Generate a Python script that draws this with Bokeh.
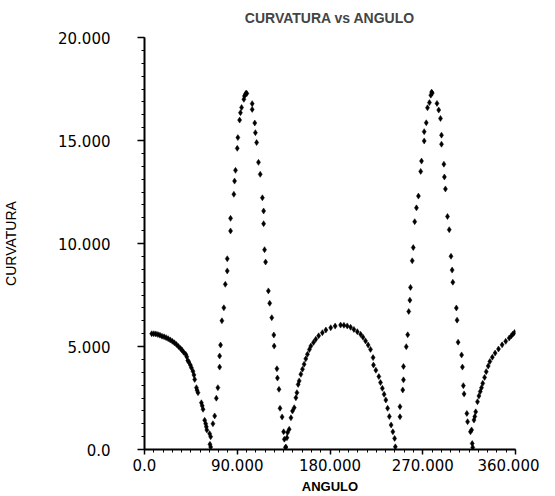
import numpy as np
from bokeh.plotting import figure
from bokeh.models import Range1d, FixedTicker, ColumnDataSource
from bokeh.embed import file_html
from bokeh.resources import INLINE

# ---- data ----
angulo = [
    # lobe 1
    7, 9, 11, 13, 15, 17, 19, 21, 23, 25, 27, 29, 31, 33, 35, 36.5, 38, 40, 41, 42,
    43, 44.5, 45.5, 47, 48, 48.7, 50.4, 51, 51.9, 55.2, 56, 56.8, 58.4, 59.4, 60.0,
    60.5, 63.2, 64.2, 63.5, 64.2,
    # spike 1 rising
    66.4, 68.1, 69.7, 71.2, 72.9, 72.9, 73.8, 75.1, 77.0, 78.4, 80.3, 80.3, 83.5,
    83.5, 86.7, 87.4, 88.3, 90.0, 90.6, 92.3, 93.1, 94.2, 96.4, 97.0, 98.0, 98.6, 99.3,
    # spike 1 falling
    104.5, 104.5, 107.0, 107.6, 108.8, 110.6, 112.3, 114.4, 115.6, 115.6, 116.5,
    117.5, 120.2, 121.5, 123.5, 125.5, 125.8, 128.5, 129.0, 130.5, 131.5, 133.5,
    135.0, 135.7, 136.8,
    # lobe 2
    137.2, 138.2, 138.8, 140.4, 142.1, 143.6, 145.3, 146.9, 147.9, 149.1, 150.1,
    151.7, 153.3, 154.9, 156.5, 158.1, 160.0, 161.4, 164.0, 166.2, 169.0, 172.6,
    176.0, 180.7, 185.0, 190.3, 193.5, 196.7, 200.0, 203.2, 206.5, 209.7, 212.0,
    214.5, 217.0, 219.3, 221.8, 222.2, 224.5, 227.4, 229.0, 230.8, 232.5, 234.2,
    235.9, 237.6, 239.3, 241.0, 242.7, 243.4,
    # spike 2 rising
    247.9, 247.9, 250.6, 251.3, 251.3, 254.0, 255.4, 256.4, 257.5, 258.1, 259.8,
    260.8, 262.2, 263.9, 265.8, 268.0, 268.8, 271.4, 271.4, 273.4, 274.6, 276.5,
    277.8, 278.6, 279.2,
    # spike 2 falling
    283.8, 285.5, 287.2, 288.2, 288.2, 290.5, 291.0, 292.0, 294.0, 295.7, 297.4,
    298.5, 299.2, 302.6, 303.3, 304.3, 307.7, 308.5, 309.4, 310.1, 312.8, 313.5,
    316.3, 317.4, 318.0, 318.5,
    # lobe 3
    319.7, 320.5, 321.4, 323.1, 324.5, 325.8, 327.0, 328.2, 330.0, 331.6, 333.5,
    335.1, 337.5, 340.2, 343.5, 347.0, 350.5, 353.9, 356.0, 357.3, 359.0,
]
curvatura = [
    # lobe 1
    5.62, 5.62, 5.61, 5.58, 5.55, 5.50, 5.47, 5.43, 5.38, 5.32, 5.25, 5.18, 5.10,
    5.00, 4.90, 4.82, 4.72, 4.62, 4.50, 4.32, 4.25, 4.10, 3.97, 3.80, 3.62, 3.40,
    3.00, 2.88, 2.76, 2.27, 2.12, 1.95, 1.42, 1.25, 1.10, 0.95, 0.77, 0.62, 0.25, 0.12,
    # spike 1 rising
    1.25, 1.63, 2.49, 3.00, 4.00, 4.54, 5.07, 6.25, 6.88, 8.02, 8.67, 9.26, 10.61,
    11.22, 12.39, 13.03, 13.55, 14.62, 15.14, 15.99, 16.35, 16.60, 17.00, 17.16,
    17.25, 17.30, 17.28,
    # spike 1 falling
    16.79, 16.51, 15.85, 15.38, 14.90, 13.94, 13.36, 12.22, 11.58, 10.96, 9.70,
    9.10, 7.70, 7.10, 6.40, 5.56, 5.02, 3.92, 3.47, 2.92, 2.00, 1.58, 0.86, 0.50, 0.10,
    # lobe 2
    0.12, 0.57, 0.82, 0.98, 1.54, 1.87, 2.03, 2.51, 2.76, 3.16, 3.33, 3.65, 3.90,
    4.14, 4.40, 4.62, 4.85, 5.02, 5.20, 5.35, 5.52, 5.67, 5.80, 5.91, 5.99, 6.04,
    6.03, 6.00, 5.93, 5.83, 5.72, 5.59, 5.45, 5.27, 5.07, 4.86, 4.46, 4.10, 3.85,
    3.54, 3.25, 2.97, 2.68, 2.40, 2.00, 1.60, 1.19, 0.86, 0.54, 0.13,
    # spike 2 rising
    1.59, 2.08, 2.89, 3.38, 4.03, 4.99, 5.57, 6.70, 7.25, 7.87, 9.16, 9.80, 11.06,
    11.73, 12.30, 13.50, 14.00, 14.98, 15.43, 15.86, 16.59, 16.84, 17.20, 17.35, 17.30,
    # spike 2 falling
    16.80, 16.48, 16.07, 15.26, 14.82, 13.85, 13.23, 12.65, 11.31, 10.67, 9.38,
    8.71, 8.12, 6.87, 6.28, 5.21, 4.59, 4.00, 3.10, 2.70, 1.75, 1.35, 0.86, 0.95,
    0.29, 0.10,
    # lobe 3
    1.43, 1.60, 1.83, 2.32, 2.60, 2.81, 3.00, 3.21, 3.50, 3.78, 4.05, 4.27, 4.48,
    4.68, 4.88, 5.08, 5.25, 5.41, 5.52, 5.60, 5.68,
]

x_ticks = [0, 90, 180, 270, 360]
x_tick_labels = ["0.0", "90.000", "180.000", "270.000", "360.000"]
y_ticks = [0, 5, 10, 15, 20]
y_tick_labels = ["0.0", "5.000", "10.000", "15.000", "20.000"]

titulo = "CURVATURA vs ANGULO"
x_label = "ANGULO"
y_label = "CURVATURA"

src = ColumnDataSource(data=dict(a=angulo, c=curvatura))

p = figure(width=539, height=496, output_backend="svg", toolbar_location=None,
           x_range=Range1d(0, 360), y_range=Range1d(0, 20),
           min_border_left=141, min_border_right=24, min_border_top=36,
           min_border_bottom=47, title=titulo)

p.scatter("a", "c", source=src, marker="diamond", size=6,
          fill_color="black", line_color="black", line_width=0.5)

p.title.align = "center"
p.title.vertical_align = "top"
p.title.text_font = "Liberation Sans"
p.title.text_font_size = "14px"
p.title.text_font_style = "bold"
p.title.standoff = 19

p.xgrid.visible = False
p.ygrid.visible = False
p.outline_line_color = None
p.background_fill_color = "white"
p.border_fill_color = "white"

xt = FixedTicker(ticks=x_ticks, minor_ticks=list(np.arange(0, 361, 9)))
yt = FixedTicker(ticks=y_ticks, minor_ticks=list(np.arange(0, 20.01, 0.625)))
p.xaxis.ticker = xt
p.yaxis.ticker = yt
p.xaxis.major_label_overrides = {t: l for t, l in zip(x_ticks, x_tick_labels)}
p.yaxis.major_label_overrides = {t: l for t, l in zip(y_ticks, y_tick_labels)}

for ax in (p.xaxis[0], p.yaxis[0]):
    ax.axis_line_width = 2
    ax.axis_line_color = "black"
    ax.major_tick_line_color = "black"
    ax.minor_tick_line_color = "black"
    ax.major_tick_line_width = 1.5
    ax.minor_tick_line_width = 1
    ax.major_tick_in = 0
    ax.minor_tick_in = 0
    ax.major_label_text_font = "DejaVu Sans"
    ax.major_label_text_font_size = "15px"
    ax.major_label_text_color = "black"
    ax.axis_label_text_color = "black"

p.xaxis.major_tick_out = 5
p.xaxis.minor_tick_out = 3
p.xaxis.major_label_standoff = 4
p.xaxis.axis_label = x_label
p.xaxis.axis_label_text_font = "Liberation Sans"
p.xaxis.axis_label_text_font_size = "13px"
p.xaxis.axis_label_text_font_style = "bold"
p.xaxis.axis_label_standoff = 5

p.yaxis.major_tick_out = 7
p.yaxis.minor_tick_out = 3
p.yaxis.major_label_standoff = 27
p.yaxis.axis_label = y_label
p.yaxis.axis_label_text_font = "Liberation Sans"
p.yaxis.axis_label_text_font_size = "14px"
p.yaxis.axis_label_text_font_style = "normal"
p.yaxis.axis_label_standoff = 36

open("out.html", "w").write(file_html(p, INLINE))
